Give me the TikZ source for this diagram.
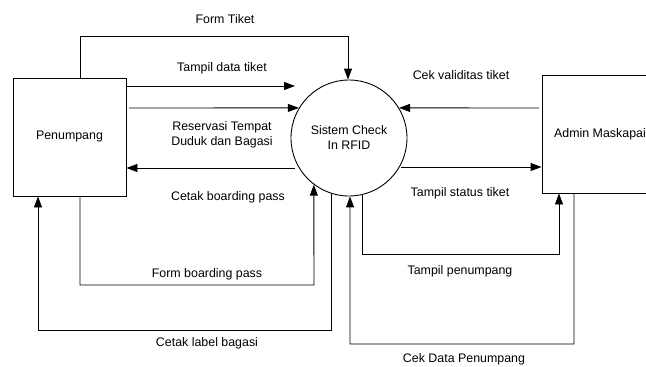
\documentclass[tikz,border=0pt]{standalone}
\usepackage{fontspec}
\setmainfont{Liberation Sans}
\usetikzlibrary{arrows.meta}
\begin{document}
\begin{tikzpicture}[x=1pt,y=-1pt,
  box/.style={draw,line width=0.9pt,minimum width=113pt,minimum height=118pt,inner sep=0pt},
  proc/.style={draw,circle,line width=0.9pt,minimum size=116pt,inner sep=0pt,align=center},
  arr/.style={line width=0.9pt,-{Triangle[length=11pt,width=8pt]}},
  lbl/.style={inner sep=0pt,align=center},
  every node/.style={font=\fontsize{12.4}{15}\selectfont}]
\useasboundingbox (0,0) rectangle (646,367);
\clip (0,0) rectangle (646,367);

\node[box] (pen) at (69.5,137) {Penumpang};
\node[box,minimum width=116pt] (adm) at (600,134) {Admin Maskapai};
\node[proc] (sys) at (349,138) {Sistem Check\\In RFID};

% free ends / bends
\coordinate (t1) at (295,86);
\coordinate (r1) at (129,108);
\coordinate (r1e) at (sys.149);
\coordinate (cb) at (295,168);
\coordinate (cv) at (539,108);
\coordinate (ts) at (401,167);

% Form Tiket
\draw[arr] (pen.north -| 80,0) |- (348,36) -- (sys.north -| 348,0);
% Tampil data tiket
\draw[arr] (pen.east |- t1) -- (t1);
% Reservasi
\draw[arr] (r1) -- (r1e);
% Cetak boarding pass
\draw[arr] (cb) -- (pen.east |- cb);
% Form boarding pass
\draw[arr] (pen.south -| 80,0) |- (314,285) -- (sys.233);
% Cetak label bagasi
\draw[arr] (sys.253) |- (38,330) -- (pen.south -| 38,0);
% Cek Data Penumpang
\draw[arr] (adm.south -| 574,0) |- (350,344) -- (sys.271);
% Tampil penumpang
\draw[arr] (sys.283) |- (559,254) -- (adm.south -| 559,0);
% Cek validitas tiket
\draw[arr] (cv) -- (sys.31);
% Tampil status tiket
\draw[arr] (ts) -- (adm.west |- ts);

% labels
\node[lbl] (l1) at (225,19) {Form Tiket};
\node[lbl] (l2) at (222,68) {Tampil data tiket};
\node[lbl] (l3) at (222,134.5) {Reservasi Tempat\\Duduk dan Bagasi};
\node[lbl] (l4) at (228,197) {Cetak boarding pass};
\node[lbl] (l5) at (207,274) {Form boarding pass};
\node[lbl] (l6) at (207,343) {Cetak label bagasi};
\node[lbl] (l7) at (461,75) {Cek validitas tiket};
\node[lbl] (l8) at (460,193) {Tampil status tiket};
\node[lbl] (l9) at (460,271) {Tampil penumpang};
\node[lbl] (l10) at (464,359) {Cek Data Penumpang};
\end{tikzpicture}
\end{document}
